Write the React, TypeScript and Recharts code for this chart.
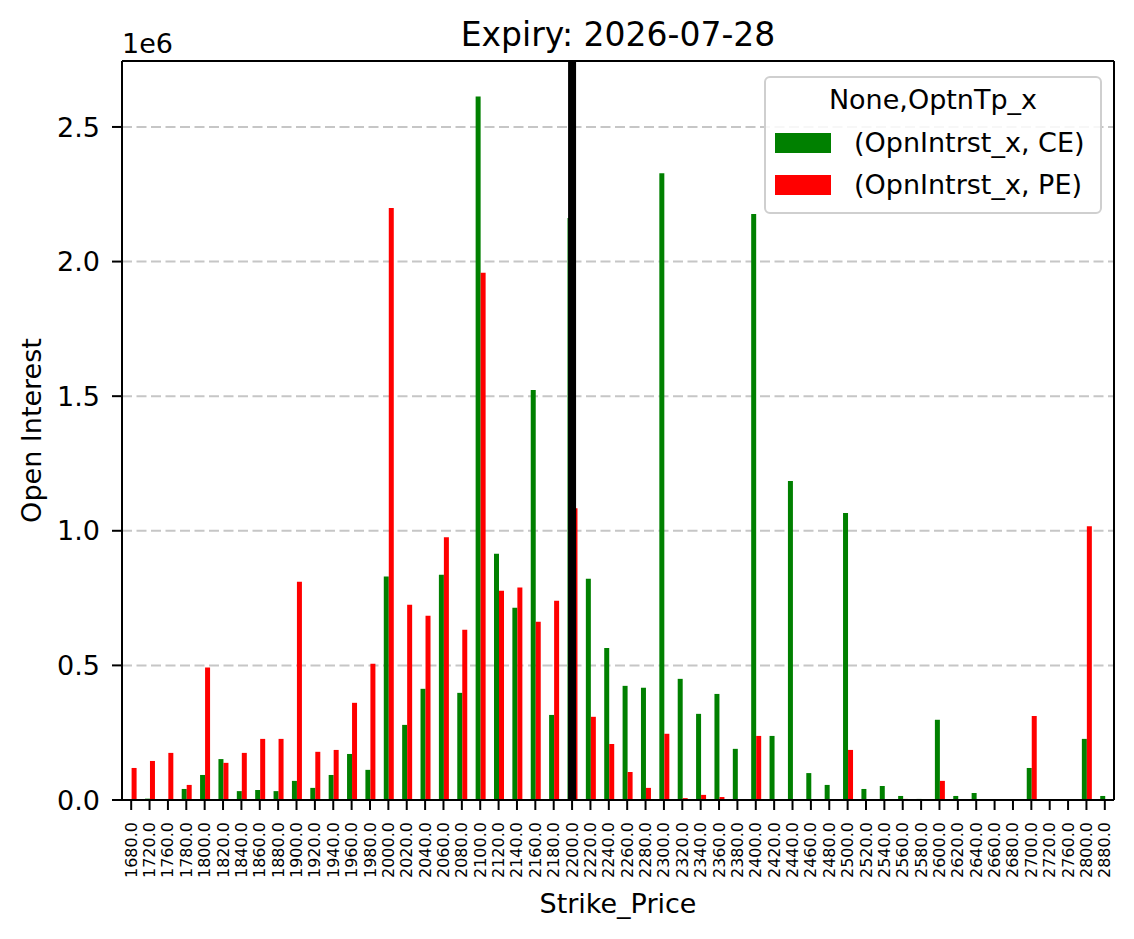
import React from 'react';
import {
  BarChart,
  Bar,
  XAxis,
  YAxis,
  CartesianGrid,
  ReferenceLine,
  Legend,
  Label,
} from 'recharts';

const strikes = [
  1680, 1720, 1760, 1780, 1800, 1820, 1840, 1860, 1880, 1900, 1920, 1940, 1960, 1980,
  2000, 2020, 2040, 2060, 2080, 2100, 2120, 2140, 2160, 2180, 2200, 2220, 2240, 2260,
  2280, 2300, 2320, 2340, 2360, 2380, 2400, 2420, 2440, 2460, 2480, 2500, 2520, 2540,
  2560, 2580, 2600, 2620, 2640, 2660, 2680, 2700, 2720, 2760, 2800, 2880,
];

const ceOI = [
  0, 5000, 0, 41000, 93000, 152000, 33000, 37000, 33000, 71000, 45000, 93000, 171000, 112000,
  830000, 279000, 413000, 837000, 398000, 2613000, 915000, 714000, 1523000, 316000, 2162000, 822000, 565000, 424000,
  417000, 2328000, 450000, 320000, 394000, 190000, 2177000, 238000, 1185000, 100000, 56000, 1066000, 41000, 52000,
  15000, 4000, 298000, 15000, 26000, 0, 0, 119000, 0, 0, 227000, 15000,
];

const peOI = [
  119000, 145000, 175000, 56000, 492000, 138000, 175000, 227000, 227000, 811000, 179000, 186000, 361000, 506000,
  2199000, 725000, 684000, 976000, 632000, 1958000, 777000, 789000, 662000, 740000, 1084000, 309000, 208000, 104000,
  45000, 246000, 7000, 19000, 11000, 3000, 238000, 0, 0, 0, 0, 186000, 0, 0,
  4000, 0, 71000, 0, 0, 0, 0, 312000, 0, 0, 1017000, 0,
];

const yTicks = [0, 500000, 1000000, 1500000, 2000000, 2500000];
const yMax = 2745000;
const spotStrike = '2200.0';
const titleText = 'Expiry: 2026-07-28';
const legendTitle = 'None,OptnTp_x';
const ceName = '(OpnIntrst_x, CE)';
const peName = '(OpnIntrst_x, PE)';
const ceColor = '#008000';
const peColor = '#ff0000';

const data = strikes.map((s, i) => ({
  strike: s.toFixed(1),
  ce: ceOI[i],
  pe: peOI[i],
}));

const FONT = "'DejaVu Sans', sans-serif";
const MARGIN = { top: 61, right: 20, left: 42, bottom: 19 };

const XTick = (props: any) => {
  const { x, y, payload } = props;
  return (
    <text
      x={x}
      y={y}
      transform={`rotate(-90, ${x}, ${y})`}
      textAnchor="end"
      dominantBaseline="central"
      fontSize={16}
      fontFamily={FONT}
      fill="#000"
    >
      {payload.value}
    </text>
  );
};

const LegendBox = () => (
  <div
    style={{
      position: 'relative',
      width: 338,
      height: 138,
      boxSizing: 'border-box',
      border: '2px solid #cfcfcf',
      borderRadius: 6,
      background: 'rgba(255,255,255,0.85)',
      fontFamily: FONT,
      fontSize: 27,
      color: '#000',
    }}
  >
    <div
      style={{
        position: 'absolute',
        left: 0,
        width: '100%',
        top: 6,
        textAlign: 'center',
        lineHeight: '32px',
      }}
    >
      {legendTitle}
    </div>
    {[
      { name: ceName, color: ceColor, top: 55 },
      { name: peName, color: peColor, top: 97 },
    ].map((e) => (
      <div key={e.name}>
        <div
          style={{
            position: 'absolute',
            left: 9,
            top: e.top,
            width: 56,
            height: 20,
            background: e.color,
          }}
        />
        <div
          style={{
            position: 'absolute',
            left: 88,
            top: e.top - 6,
            lineHeight: '32px',
            whiteSpace: 'nowrap',
          }}
        >
          {e.name}
        </div>
      </div>
    ))}
  </div>
);

export default function App() {
  return (
    <div style={{ position: 'absolute', left: 0, top: 0, width: 1134, height: 939, background: '#fff' }}>
      <BarChart
        width={1134}
        height={939}
        data={data}
        margin={MARGIN}
        barCategoryGap="25%"
        barGap={0}
      >
        <CartesianGrid
          vertical={false}
          stroke="#c6c6c6"
          strokeWidth={2}
          strokeDasharray="10 4.5"
          horizontalValues={yTicks}
        />
        <XAxis
          dataKey="strike"
          interval={0}
          height={120}
          tickSize={10}
          tickMargin={12}
          tick={<XTick />}
          tickLine={{ stroke: '#000', strokeWidth: 2 }}
          axisLine={{ stroke: '#000', strokeWidth: 2 }}
        >
          <Label
            value="Strike_Price"
            content={(p: any) => {
              const vb = p.viewBox || { x: 122, width: 992, y: 800, height: 120 };
              return (
                <text
                  x={vb.x + vb.width / 2}
                  y={vb.y + vb.height - 7}
                  textAnchor="middle"
                  fontSize={27}
                  fontFamily={FONT}
                  fill="#000"
                >
                  Strike_Price
                </text>
              );
            }}
          />
          <Label
            value={titleText}
            content={(p: any) => {
              const vb = p.viewBox || { x: 122, width: 992, y: 800, height: 120 };
              return (
                <text
                  x={vb.x + vb.width / 2}
                  y={MARGIN.top - 15}
                  textAnchor="middle"
                  fontSize={33}
                  fontFamily={FONT}
                  fill="#000"
                >
                  {titleText}
                </text>
              );
            }}
          />
        </XAxis>
        <YAxis
          domain={[0, yMax]}
          ticks={yTicks}
          width={80}
          tickSize={10}
          tickMargin={12}
          tickFormatter={(v: number) => (v / 1e6).toFixed(1)}
          tick={{ fontSize: 27, fontFamily: FONT, fill: '#000' }}
          tickLine={{ stroke: '#000', strokeWidth: 2 }}
          axisLine={{ stroke: '#000', strokeWidth: 2 }}
          allowDataOverflow
        >
          <Label
            value="Open Interest"
            content={(p: any) => {
              const vb = p.viewBox || { x: 42, width: 80, y: 61, height: 739 };
              const cx = vb.x - 11;
              const cy = vb.y + vb.height / 2;
              return (
                <text
                  x={cx}
                  y={cy}
                  transform={`rotate(-90, ${cx}, ${cy})`}
                  textAnchor="middle"
                  dominantBaseline="central"
                  fontSize={27}
                  fontFamily={FONT}
                  fill="#000"
                >
                  Open Interest
                </text>
              );
            }}
          />
          <Label
            value="1e6"
            content={(p: any) => {
              const vb = p.viewBox || { x: 42, width: 80, y: 61, height: 739 };
              return (
                <text
                  x={vb.x + vb.width}
                  y={vb.y - 8}
                  textAnchor="start"
                  fontSize={27}
                  fontFamily={FONT}
                  fill="#000"
                >
                  1e6
                </text>
              );
            }}
          />
        </YAxis>
        <Legend
          layout="horizontal"
          verticalAlign="middle"
          align="center"
          wrapperStyle={{ left: 764, top: 76, width: 338, height: 138 }}
          content={() => <LegendBox />}
        />
        <Bar dataKey="ce" name={ceName} fill={ceColor} isAnimationActive={false} />
        <Bar dataKey="pe" name={peName} fill={peColor} isAnimationActive={false} />
        <ReferenceLine x={spotStrike} stroke="#000" strokeWidth={8} />
        <ReferenceLine y={yMax} stroke="#000" strokeWidth={2} />
        <ReferenceLine x={strikes[strikes.length - 1].toFixed(1)} position="end" stroke="#000" strokeWidth={2} />
      </BarChart>
    </div>
  );
}
